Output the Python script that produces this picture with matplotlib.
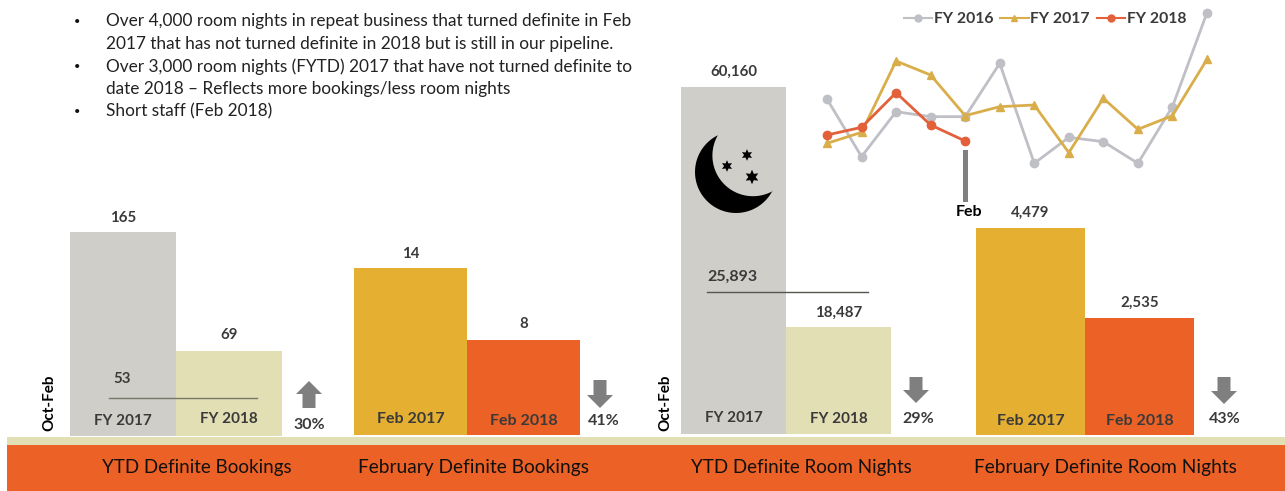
import numpy as np
from matplotlib import pyplot as plt
from matplotlib.lines import Line2D
from matplotlib.patches import Rectangle, Polygon

W, H = 1285, 491
plt.rcParams['font.family'] = ['Lato', 'DejaVu Sans']

bullets = [
    ['Over 4,000 room nights in repeat business that turned definite in Feb',
     '2017 that has not turned definite in 2018 but is still in our pipeline.'],
    ['Over 3,000 room nights (FYTD) 2017 that have not turned definite to',
     'date 2018 \u2013 Reflects more bookings/less room nights'],
    ['Short staff (Feb 2018)'],
]

ytd_book = [165, 69]
feb_book = [14, 8]
ytd_nights = [60160, 18487]
feb_nights = [4479, 2535]
fy_labels = ['FY 2017', 'FY 2018']
feb_labels = ['Feb 2017', 'Feb 2018']
titles = ['YTD Definite Bookings', 'February Definite Bookings',
          'YTD Definite Room Nights', 'February Definite Room Nights']
changes = ['30%', '41%', '29%', '43%']

# trend chart has no axis in the source, values are relative heights
months = np.arange(12)
fy2016 = [203, 30, 165, 150, 150, 310, 10, 88, 75, 10, 180, 462]
fy2017 = [70, 103, 317, 275, 153, 180, 185, 42, 205, 112, 153, 322]
fy2018 = [95, 118, 222, 125, 77]

GREY = '#D0CEC8'
PALE = '#E1DFB3'
GOLD = '#E5AF31'
ORANGE = '#EC6125'
TXT = '#3A3A3A'


def px_axes(fig, left, top, right, bottom):
    ax = fig.add_axes([left / W, 1 - bottom / H, (right - left) / W, (bottom - top) / H])
    ax.axis('off')
    ax.patch.set_alpha(0)
    return ax


def bar_panel(fig, left, right, top, bottom, values, colors, labels, label_ys, fmt_y, lab_size):
    ax = px_axes(fig, left, top, right, bottom)
    ax.bar([0, 1], values, width=1, color=colors)
    ax.set_xlim(-0.5, 1.5)
    ax.set_ylim(0, max(values))
    for i, v in enumerate(values):
        ax.annotate('{:,}'.format(v), (i, v), xytext=(0, fmt_y[i]), textcoords='offset pixels',
                    ha='center', va='center', fontsize=10.8, fontweight='bold',
                    color=TXT, annotation_clip=False)
        ax.annotate(labels[i], (i, 0), xytext=(0, label_ys[i]), textcoords='offset pixels',
                    ha='center', va='center', fontsize=lab_size, fontweight='bold', color=TXT)
    return ax


fig = plt.figure(figsize=(W / 100, H / 100), dpi=100)

bar_panel(fig, 70, 282, 232, 436, ytd_book, [GREY, PALE], fy_labels, [15, 17], [14, 16], 11)
bar_panel(fig, 354, 580, 268, 435, feb_book, [GOLD, ORANGE], feb_labels, [16, 14], [14, 16], 11.5)
bar_panel(fig, 681, 891, 87, 434, ytd_nights, [GREY, PALE], fy_labels, [16, 15], [15, 15], 11)
bar_panel(fig, 976, 1194, 228, 435, feb_nights, [GOLD, ORANGE], feb_labels, [14, 14], [15, 15], 11.5)

# trend lines
ax_line = px_axes(fig, 827, 0, 1207, 500 / 3)
ax_line.set_xlim(0, 11)
ax_line.set_ylim(0, 500)
kw = dict(lw=2, ms=6, clip_on=False)
ax_line.plot(months, fy2016, color='#BFBFC6', marker='o', **kw)
ax_line.plot(months, fy2017, color='#D9AE4A', marker='^', **kw)
ax_line.plot(months[:len(fy2018)], fy2018, color='#E2603A', marker='o', **kw)

handles = [Line2D([], [], color='#BFBFC6', marker='o', lw=1.5, ms=5),
           Line2D([], [], color='#D9AE4A', marker='^', lw=1.5, ms=5),
           Line2D([], [], color='#E2603A', marker='o', lw=1.5, ms=5)]
fig.legend(handles, ['FY 2016', 'FY 2017', 'FY 2018'], ncol=3, frameon=False,
           loc='center', bbox_to_anchor=(1045 / W, 1 - 19 / H),
           prop={'size': 11.3, 'weight': 'bold'}, labelcolor=TXT,
           handlelength=1.8, handletextpad=0.1, columnspacing=0.45)

# everything else is placed in pixel coords
ov = fig.add_axes([0, 0, 1, 1], zorder=5)
ov.set_xlim(0, W)
ov.set_ylim(H, 0)
ov.axis('off')
ov.patch.set_alpha(0)

ov.add_patch(Rectangle((7, 437), W - 7, 8, color=PALE, lw=0))
ov.add_patch(Rectangle((7, 445), W - 7, 46, color=ORANGE, lw=0))
for x, s, t in zip([197, 473, 801, 1105], [13.5, 13.8, 13.5, 13.8], titles):
    ov.text(x, 467, t, ha='center', va='center', fontsize=s, color='#111111')

y = 21
for b in bullets:
    ov.text(77, y, '\u2022', ha='center', va='center', fontsize=8, color='#111111')
    for line in b:
        ov.text(106, y, line, ha='left', va='center', fontsize=12.4, color='#222222')
        y += 22.7

for x in [49, 665]:
    ov.text(x, 403, 'Oct-Feb', rotation=90, ha='center', va='center', fontsize=11,
            fontweight='bold', color='black')

# prior year reference lines
ov.plot([109, 257], [398, 398], color='#77776A', lw=1)
ov.text(122, 379, '53', ha='center', va='center', fontsize=10.8, fontweight='bold', color=TXT)
ov.plot([707, 868], [292, 292], color='#55554F', lw=1)
ov.text(732, 277, '25,893', ha='center', va='center', fontsize=11.5, fontweight='bold', color=TXT)

# block arrows
def block_arrow(x, top, bottom, up):
    hw, sw, head = 13, 6.5, 13
    if up:
        pts = [(x, top), (x + hw, top + head), (x + sw, top + head), (x + sw, bottom),
               (x - sw, bottom), (x - sw, top + head), (x - hw, top + head)]
    else:
        pts = [(x, bottom), (x + hw, bottom - head), (x + sw, bottom - head), (x + sw, top),
               (x - sw, top), (x - sw, bottom - head), (x - hw, bottom - head)]
    ov.add_patch(Polygon(pts, color='#7F7F7F', lw=0))


block_arrow(309, 381, 408, True)
block_arrow(600, 380, 408, False)
block_arrow(916, 377, 403, False)
block_arrow(1224, 377, 404, False)
for x, yy, t in zip([309, 604, 918, 1225], [425, 421, 419, 419], changes):
    ov.text(x, yy, t, ha='center', va='center', fontsize=11.5, fontweight='bold', color=TXT)

# Feb marker
ov.add_patch(Rectangle((963, 150), 5, 52, color='#808080', lw=0))
ov.text(969, 212, 'Feb', ha='center', va='center', fontsize=11.5, fontweight='bold', color='black')

# moon: outer arc from tip to tip round the lower left, back along the inner arc
def arc(cx, cy, r, p0, p1, go_ccw):
    a0 = np.arctan2(p0[1] - cy, p0[0] - cx)
    a1 = np.arctan2(p1[1] - cy, p1[0] - cx)
    if go_ccw and a1 < a0:
        a1 += 2 * np.pi
    if not go_ccw and a1 > a0:
        a1 -= 2 * np.pi
    t = np.linspace(a0, a1, 60)
    return np.column_stack([cx + r * np.cos(t), cy + r * np.sin(t)])


tip1 = (718, 135)
tip2 = (773, 191)
moon = np.vstack([arc(736, 172, 41, tip1, tip2, False), arc(753, 155.6, 40.6, tip2, tip1, True)])
ov.add_patch(Polygon(moon, closed=True, color='black', lw=0))
ov.scatter([727, 747, 752], [166, 155, 177], marker=(6, 1, 0), s=[70, 70, 110], color='black', lw=0)

fig.savefig('out.png', dpi=100)
